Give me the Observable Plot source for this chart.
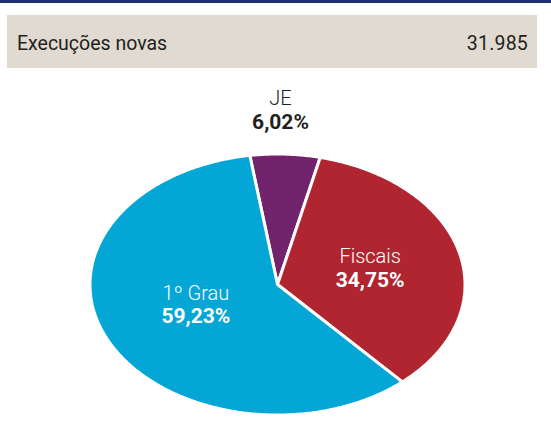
<!DOCTYPE html>
<html>
<head>
<meta charset="utf-8">
<script src="https://cdn.jsdelivr.net/npm/d3@7"></script>
<script src="https://cdn.jsdelivr.net/npm/@observablehq/plot@0.6"></script>
<style>
  html, body { margin: 0; padding: 0; background: #fff; width: 551px; height: 445px; overflow: hidden; font-family: Roboto, "Noto Sans", sans-serif; }
  #topbar { position: absolute; left: 0; top: 0; width: 551px; height: 3px; background: #1c2f6e; }
  #header { position: absolute; left: 7px; top: 15px; width: 530px; height: 53px; background: #e0dad0; color: #231f20; font-size: 19.5px; line-height: 19.5px; }
  #header .t { position: absolute; left: 10px; top: 19px; }
  #header .v { position: absolute; right: 9px; top: 19px; letter-spacing: 0.2px; }
  #chart { position: absolute; left: 0; top: 75px; }
</style>
</head>
<body>
<div id="topbar"></div>
<div id="header"><span class="t"></span><span class="v"></span></div>
<div id="chart"></div>
<script>
const headerTitle = "Execuções novas";
const headerTotal = "31.985";
const categories = ["JE", "Fiscais", "1º Grau"];
const shares = [6.02, 34.75, 59.23];
const shareLabels = ["6,02%", "34,75%", "59,23%"];
const colors = ["#71246b", "#b0252f", "#03a6d5"];
const labelColors = ["#231f20", "#ffffff", "#ffffff"];

document.querySelector("#header .t").textContent = headerTitle;
document.querySelector("#header .v").textContent = headerTotal;

// layout of the slice labels (polar: radius factor and angle shift from slice middle, degrees)
const startAngle = -8.5 * Math.PI / 180;
const labelRadius = [1.337, 0.51, 0.462];
const labelShift = [-1.65, 0, 5.5];

const arcs = d3.pie().sort(null).startAngle(startAngle).endAngle(startAngle + 2 * Math.PI)(shares);

const pts = [];
const labels = [];
arcs.forEach((a, i) => {
  const n = Math.max(4, Math.ceil((a.endAngle - a.startAngle) / 0.01));
  pts.push({cat: categories[i], color: colors[i], x: 0, y: 0});
  for (let k = 0; k <= n; k++) {
    const t = a.startAngle + (a.endAngle - a.startAngle) * k / n;
    pts.push({cat: categories[i], color: colors[i], x: Math.sin(t), y: Math.cos(t)});
  }
  const m = (a.startAngle + a.endAngle) / 2 + labelShift[i] * Math.PI / 180;
  labels.push({cat: categories[i], pct: shareLabels[i], tc: labelColors[i], x: labelRadius[i] * Math.sin(m), y: labelRadius[i] * Math.cos(m)});
});

const chart = Plot.plot({
  width: 551,
  height: 370,
  marginLeft: 89.5,
  marginRight: 86.5,
  marginTop: 78.5,
  marginBottom: 30.5,
  x: {domain: [-1, 1], axis: null},
  y: {domain: [-1, 1], axis: null},
  style: {fontFamily: "Roboto, 'Noto Sans', sans-serif", background: "transparent", overflow: "visible"},
  marks: [
    Plot.line(pts, {x: "x", y: "y", z: "cat", fill: "color", stroke: "white", strokeWidth: 3, strokeLinejoin: "miter", curve: "linear-closed"}),
    Plot.text(labels, {x: "x", y: "y", text: "cat", fill: "tc", dy: -11, fontSize: 20, fontWeight: 300}),
    Plot.text(labels, {x: "x", y: "y", text: "pct", fill: "tc", dy: 12, fontSize: 21, fontWeight: 700, letterSpacing: 0.3})
  ]
});
document.getElementById("chart").appendChild(chart);
</script>
</body>
</html>
